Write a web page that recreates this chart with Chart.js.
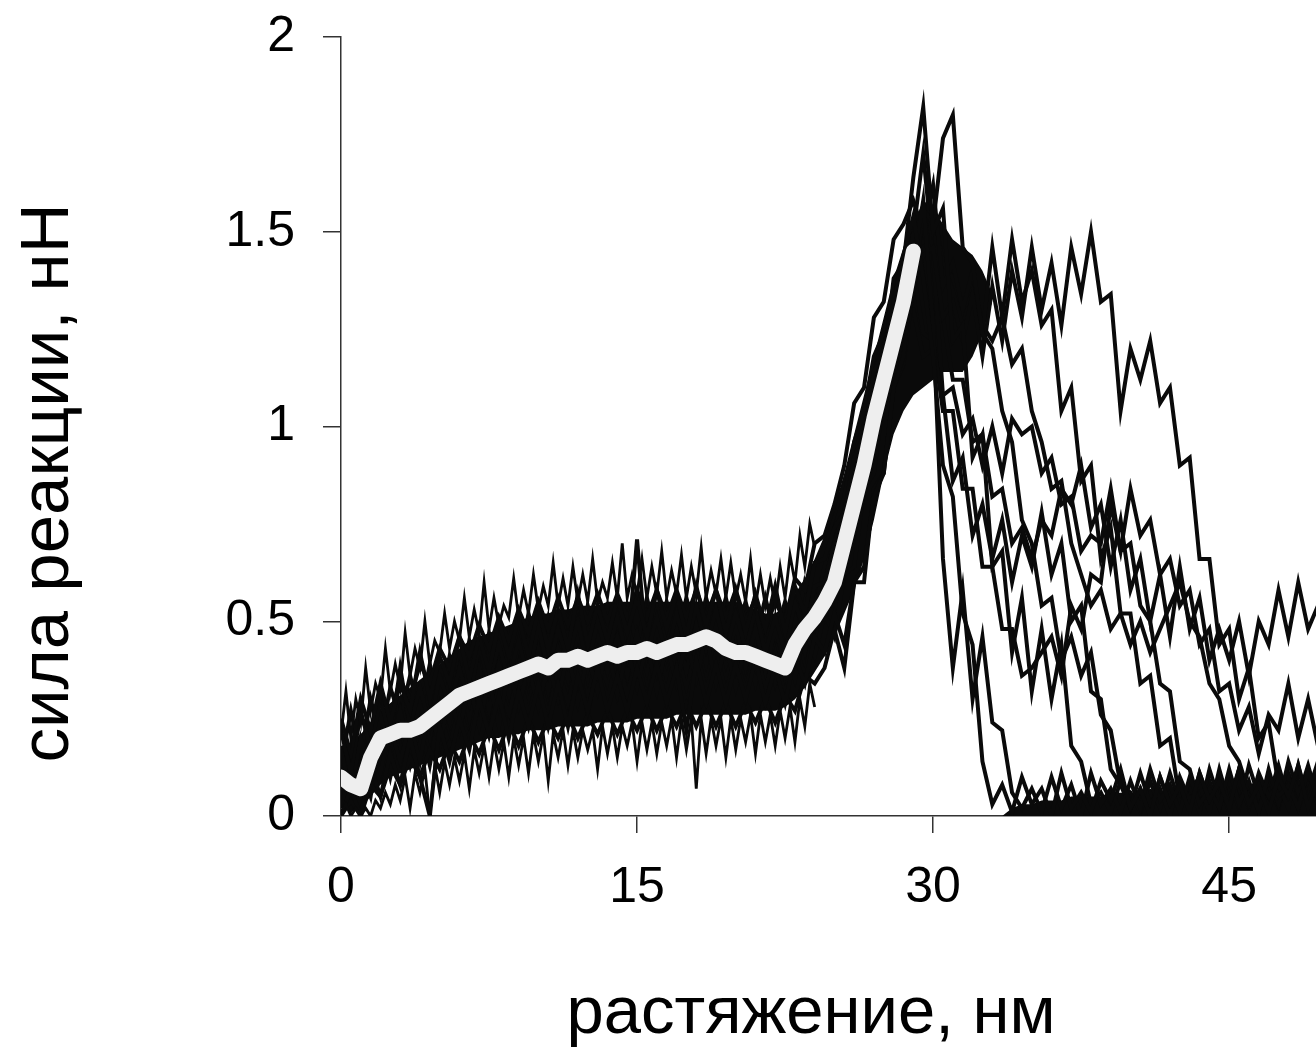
<!DOCTYPE html>
<html>
<head>
<meta charset="utf-8">
<script src="https://cdn.jsdelivr.net/npm/chart.js@4.4.1/dist/chart.umd.min.js"></script>
<style>
  html, body { margin: 0; padding: 0; background: #ffffff; }
  #wrap { width: 1316px; height: 1050px; }
</style>
</head>
<body>
<div id="wrap"><canvas id="c" width="1316" height="1050"></canvas></div>
<script>
// ---- data (extension in nm, force in nN) ----
const extensionNm = [0,0.5,1,1.5,2,2.5,3,3.5,4,4.5,5,5.5,6,6.5,7,7.5,8,8.5,9,9.5,10,10.5,11,11.5,12,12.5,13,13.5,14,14.5,15,15.5,16,16.5,17,17.5,18,18.5,19,19.5,20,20.5,21,21.5,22,22.5,23,23.5,24,24.5,25,25.5,26,26.5,27,27.5,28,28.5,29,29.5,30,30.5,31,31.5,32,32.5,33,33.5,34,34.5,35,35.5,36,36.5,37,37.5,38,38.5,39,39.5,40,40.5,41,41.5,42,42.5,43,43.5,44,44.5,45,45.5,46,46.5,47,47.5,48,48.5,49,49.5];

// individual force curves (x = extensionNm)
const curve1 = [.25,.16,.30,.22,.34,.24,.34,.27,.42,.30,.41,.34,.46,.35,.46,.37,.50,.41,.51,.41,.53,.43,.53,.43,.57,.44,.54,.45,.56,.47,.56,.46,.58,.48,.57,.46,.59,.49,.58,.47,.58,.47,.57,.48,.59,.47,.59,.52,.65,
.66,.74,.78,.92,.98,1.14,1.20,1.32,1.44,1.54,1.38,1.18,.90,.82,.52,.44,.14,.03,
.08,.01,.10,.03,.07,.00,.11,.02,.06,.01,.09,.04,.12,.02,.07,.00,.10,.03,.08,.01,.11,.04,.09,.02,.12,.03,.08,.01,.10,.05,.13,.02,.09];

const curve2 = [.00,.07,.00,.13,.05,.16,.08,.20,.10,.00,.23,.14,.25,.17,.30,.21,.31,.20,.32,.23,.34,.23,.34,.23,.36,.27,.38,.27,.36,.27,.38,.29,.39,.29,.38,.22,.40,.29,.39,.29,.39,.30,.40,.29,.38,.29,.41,.34,.46,
.42,.52,.44,.60,.64,.82,.88,1.10,1.18,1.42,1.58,1.26,.66,.38,.58,.30,.46,.24,.22,.06,.02,
.07,.01,.10,.02,.08,.00,.11,.03,.07,.01,.09,.02,.12,.04,.08,.01,.10,.03,.07,.02,.12,.03,.09,.01,.11,.05,.08,.02,.12,.04];

const curve3 = [.22,.11,.27,.17,.30,.20,.38,.23,.33,.23,.36,.28,.38,.29,.44,.34,.44,.35,.45,.35,.49,.37,.48,.40,.50,.38,.50,.41,.51,.41,.71,.41,.51,.41,.52,.43,.54,.43,.53,.42,.52,.43,.53,.42,.51,.42,.55,.47,.59,
.60,.70,.72,.88,.94,1.14,1.16,1.38,1.42,1.64,1.82,1.50,1.56,1.22,1.26,.92,.98,.64,.68,.42,.56,.32,.48,.30,.44,.18,.14,.03,
.06,.01,.09,.02,.11,.03,.07,.00,.10,.04,.08,.01,.12,.03,.09,.02,.11,.05,.08,.02,.13,.04,.10];

const curve4 = [.02,.13,.02,.17,.11,.23,.14,.24,.14,.28,.18,.31,.22,.34,.23,.35,.23,.38,.28,.38,.28,.39,.30,.42,.29,.41,.32,.44,.31,.43,.33,.44,.32,.44,.34,.45,.35,.46,.34,.44,.33,.44,.34,.45,.34,.44,.35,.48,.41,
.52,.46,.62,.64,.84,.88,1.08,1.10,1.32,1.34,1.56,1.52,1.74,1.80,1.46,1.42,1.24,1.20,1.04,.96,.76,.70,.54,.56,.40,.46,.36,.42,.26,.22,.08,.06,.01,
.09,.02,.11,.03,.08,.01,.12,.04,.09,.02,.13,.05,.10,.03,.14,.06,.11,.04];

const curve5 = [.21,.16,.25,.21,.31,.26,.35,.30,.39,.34,.43,.38,.46,.41,.49,.43,.51,.45,.53,.47,.55,.48,.56,.49,.56,.50,.57,.50,.57,.51,.58,.51,.58,.51,.58,.51,.58,.51,.58,.51,.58,.50,.56,.48,.55,.50,.61,.58,.70,
.72,.80,.90,1.06,1.10,1.28,1.32,1.48,1.52,1.58,1.50,1.62,1.36,1.42,1.30,1.40,1.24,1.46,1.28,1.48,1.32,1.40,1.26,1.30,1.04,1.10,.86,.90,.66,.74,.52,.52,.34,.36,.18,.20,.04,.06,
.10,.02,.09,.04,.12,.03,.10,.05,.13,.04,.11,.06,.14];

const curve6 = [.00,.04,.00,.08,.05,.13,.08,.15,.10,.17,.12,.19,.14,.21,.16,.23,.17,.24,.18,.25,.19,.25,.20,.26,.20,.26,.21,.27,.21,.27,.22,.28,.22,.28,.23,.29,.23,.29,.23,.29,.23,.29,.24,.30,.24,.31,.27,.36,.34,
.38,.48,.38,.60,.60,.84,.88,1.10,1.16,1.36,1.44,1.46,1.28,1.32,1.22,1.34,1.18,1.36,1.22,1.40,1.28,1.46,1.30,1.42,1.26,1.46,1.34,1.50,1.32,1.34,1.04,1.20,1.12,1.22,1.06,1.10,.90,.92,.66,.66,.44,.48,.30,.38,.20,.24,.08,.10,.02,.09,.03];

const curve7 = [.17,.06,.20,.12,.26,.17,.27,.16,.30,.20,.33,.24,.38,.25,.38,.27,.39,.31,.44,.33,.43,.32,.43,.35,.47,.35,.47,.37,.46,.36,.47,.37,.48,.39,.48,.37,.49,.39,.50,.39,.49,.38,.48,.37,.48,.39,.51,.42,.56,
.58,.68,.72,.86,.90,1.06,1.12,1.28,1.32,1.44,1.46,1.28,1.28,1.12,1.12,.96,.98,.82,.84,.70,.74,.66,.76,.72,.84,.80,.90,.74,.80,.64,.76,.58,.66,.50,.62,.46,.64,.48,.56,.40,.48,.40,.50,.36,.50,.44,.58,.46,.60,.48,.54];

const curve8 = [.13,.27,.15,.30,.20,.33,.25,.36,.26,.39,.28,.41,.32,.45,.36,.47,.37,.47,.38,.52,.41,.51,.41,.52,.41,.54,.44,.54,.43,.54,.44,.56,.45,.55,.45,.56,.46,.56,.47,.56,.46,.55,.45,.56,.46,.55,.47,.60,.53,
.64,.74,.82,.96,1.04,1.18,1.24,1.34,1.38,1.40,1.24,1.22,1.04,1.04,.84,.84,.64,.64,.48,.48,.36,.38,.42,.46,.36,.54,.48,.62,.60,.80,.68,.84,.72,.76,.62,.66,.54,.58,.44,.48,.32,.34,.22,.28,.16,.26,.22,.34,.20,.30,.18];

const curve9 = [.11,.02,.12,.05,.21,.10,.22,.13,.23,.13,.27,.18,.28,.19,.32,.21,.34,.26,.37,.26,.36,.26,.38,.29,.40,.26,.39,.30,.41,.31,.41,.30,.40,.32,.43,.33,.43,.32,.42,.32,.41,.32,.43,.33,.42,.31,.44,.36,.49,
.50,.60,.62,.78,.84,1.00,1.06,1.22,1.30,1.30,1.18,1.20,1.08,1.10,.98,1.02,.90,1.00,.88,1.02,.98,1.00,.88,.92,.80,.82,.68,.72,.70,.84,.68,.70,.54,.50,.34,.32,.14,.12,.03,
.09,.02,.11,.04,.08,.01,.12,.03,.10,.05,.13,.04];

const curve10 = [.12,.06,.14,.12,.22,.18,.24,.19,.26,.22,.30,.26,.34,.29,.36,.31,.38,.33,.40,.35,.42,.35,.43,.37,.44,.37,.44,.39,.44,.39,.45,.40,.45,.40,.47,.41,.48,.42,.48,.41,.45,.40,.44,.38,.42,.37,.46,.45,.53,
.56,.66,.70,.84,.88,1.04,1.10,1.26,1.34,1.50,1.70,1.44,1.08,.86,.92,.72,.80,.66,.76,.60,.72,.64,.78,.62,.70,.50,.54,.32,.30,.12,.08,.02,
.07,.01,.10,.03,.08,.02,.11,.04,.09,.01,.12,.05,.08,.03,.11,.06,.09,.04,.12];

const curve11 = [.18,.10,.20,.15,.24,.20,.28,.22,.30,.25,.33,.28,.36,.30,.38,.32,.40,.34,.42,.36,.43,.36,.44,.38,.45,.38,.45,.39,.46,.40,.46,.40,.46,.41,.47,.42,.48,.42,.47,.41,.46,.40,.45,.39,.44,.40,.48,.46,.55,
.60,.68,.76,.86,.96,1.06,1.16,1.26,1.36,1.44,1.50,1.56,1.42,1.38,1.30,1.34,1.26,1.22,1.28,1.16,1.20,1.04,.96,.84,.86,.70,.62,.54,.58,.48,.52,.44,.50,.42,.48,.54,.60,.50,.46,.34,.30,.18,.14,.06,.04,
.09,.02,.11,.04,.10,.03];

// fine-step noise at the edges of the dense band, x = 0 ... 24 nm in 0.25 nm steps
const edgeExtensionNm = [0,0.25,0.5,0.75,1,1.25,1.5,1.75,2,2.25,2.5,2.75,3,3.25,3.5,3.75,4,4.25,4.5,4.75,5,5.25,5.5,5.75,6,6.25,6.5,6.75,7,7.25,7.5,7.75,8,8.25,8.5,8.75,9,9.25,9.5,9.75,10,10.25,10.5,10.75,11,11.25,11.5,11.75,12,12.25,12.5,12.75,13,13.25,13.5,13.75,14,14.25,14.5,14.75,15,15.25,15.5,15.75,16,16.25,16.5,16.75,17,17.25,17.5,17.75,18,18.25,18.5,18.75,19,19.25,19.5,19.75,20,20.25,20.5,20.75,21,21.25,21.5,21.75,22,22.25,22.5,22.75,23,23.25,23.5,23.75,24];
const edgeNoiseUpper = [.21,.32,.20,.30,.24,.38,.27,.34,.30,.43,.32,.39,
.33,.47,.36,.43,.38,.50,.39,.45,.42,.52,.43,.50,
.45,.56,.46,.53,.47,.60,.48,.56,.49,.54,.51,.61,
.51,.58,.52,.62,.53,.59,.54,.65,.54,.61,.54,.64,
.55,.62,.55,.66,.55,.60,.56,.65,.56,.70,.56,.62,
.57,.66,.56,.64,.57,.68,.56,.63,.57,.67,.56,.64,
.57,.69,.56,.63,.57,.66,.56,.65,.56,.62,.55,.66,
.54,.62,.54,.61,.54,.64,.56,.67,.60,.72,.64,.75,.69];
const edgeNoiseLower = [.01,.03,.00,.02,.00,.02,.00,.04,.02,.06,.03,.08,
.04,.10,.02,.11,.06,.12,.00,.13,.06,.14,.08,.15,
.09,.16,.07,.17,.11,.18,.10,.19,.12,.19,.10,.20,
.13,.20,.11,.21,.14,.21,.09,.21,.15,.22,.13,.22,
.15,.22,.17,.22,.12,.23,.16,.23,.15,.23,.18,.24,
.14,.24,.17,.24,.16,.24,.18,.25,.15,.25,.17,.25,
.07,.25,.16,.25,.18,.25,.15,.25,.17,.25,.19,.26,
.16,.26,.19,.26,.18,.27,.20,.28,.19,.30,.23,.34,.28];

// dense overlap of the curves, x = 0 ... 33 nm (upper and lower edge)
const bandUpper = [.17,.19,.21,.24,.27,.29,.31,.33,.35,.37,.39,.41,.43,.45,.46,.47,.48,.49,.50,.51,.52,.52,.53,.53,.54,.54,.54,.55,.55,.55,.55,.55,.55,.55,.55,.55,.55,.55,.55,.55,.55,.54,.53,.52,.52,.54,.57,.61,.66,.72,.79,.88,.98,1.08,1.18,1.28,1.38,1.46,1.52,1.58,1.56,1.52,1.48,1.46,1.44,1.40,1.34];
const bandLower = [.03,.01,.02,.05,.08,.10,.11,.12,.13,.14,.15,.16,.17,.18,.19,.20,.20,.21,.21,.22,.22,.22,.23,.23,.23,.23,.24,.24,.24,.24,.25,.25,.25,.25,.26,.26,.26,.26,.26,.26,.26,.26,.27,.27,.27,.28,.30,.33,.37,.41,.46,.52,.58,.66,.76,.88,.98,1.04,1.08,1.10,1.12,1.14,1.14,1.14,1.18,1.24,1.32];
// curves lying on the baseline after rupture, x = 33.5 ... 49.5 nm
const baselineStart = 33.5;
const baselineUpper = [.00,.02,.03,.03,.04,.04,.04,.05,.05,.05,.05,.06,.06,.06,.06,.07,.06,.07,.07,.07,.07,.08,.08,.08,.08,.08,.09,.09,.09,.09,.09,.10,.10];

// averaged curve (light line), x = 0 ... 29 nm
const meanCurve = [.10,.08,.07,.15,.20,.21,.22,.22,.23,.25,.27,.29,.31,.32,.33,.34,.35,.36,.37,.38,.39,.38,.40,.40,.41,.40,.41,.42,.41,.42,.42,.43,.42,.43,.44,.44,.45,.46,.45,.43,.42,.42,.41,.40,.39,.38,.44,.48,.51,.55,.60,.70,.80,.90,1.02,1.12,1.22,1.32,1.45];

const xTickValues = [0, 15, 30, 45];
const yTickValues = [0, 0.5, 1, 1.5, 2];
const yTickLabels = ['0', '0.5', '1', '1.5', '2'];
const xAxisTitle = 'растяжение, нм';
const yAxisTitle = 'сила реакции, нН';

// ---- chart ----
const pts = (arr, start = 0, xs = extensionNm) => {
  const i0 = xs.indexOf(start);
  return arr.map((y, i) => ({ x: xs[i0 + i], y }));
};
const rawCurves = [curve1, curve2, curve3, curve4, curve5, curve6, curve7, curve8, curve9, curve10, curve11];
const INK = '#0a0a0a';

const datasets = [
  { label: 'среднее', data: pts(meanCurve), borderColor: '#eeeeee', borderWidth: 15,
    borderCapStyle: 'round', borderJoinStyle: 'round', pointRadius: 0, tension: 0, fill: false, order: 0 },
  { label: 'band upper', data: pts(bandUpper), borderWidth: 0, borderColor: INK, backgroundColor: INK,
    pointRadius: 0, tension: 0, fill: '+1', order: 2 },
  { label: 'band lower', data: pts(bandLower), borderWidth: 0, borderColor: INK, backgroundColor: INK,
    pointRadius: 0, tension: 0, fill: false, order: 2 },
  { label: 'baseline', data: pts(baselineUpper, baselineStart), borderWidth: 0, borderColor: INK, backgroundColor: INK,
    pointRadius: 0, tension: 0, fill: 'origin', order: 2 },
  { label: 'edge upper', data: pts(edgeNoiseUpper, 0, edgeExtensionNm), borderColor: INK, borderWidth: 2.8,
    pointRadius: 0, tension: 0, fill: false, order: 1 },
  { label: 'edge lower', data: pts(edgeNoiseLower, 0, edgeExtensionNm), borderColor: INK, borderWidth: 2.8,
    pointRadius: 0, tension: 0, fill: false, order: 1 }
];
rawCurves.forEach((c, k) => datasets.push({
  label: 'кривая ' + (k + 1),
  data: pts(c),
  borderColor: INK,
  borderWidth: 4,
  pointRadius: 0,
  tension: 0,
  fill: false,
  order: 1
}));

const FONT = "'Liberation Sans', Arial, sans-serif";

const axisTitles = {
  id: 'axisTitles',
  afterDraw(chart) {
    const ctx = chart.ctx;
    ctx.save();
    ctx.fillStyle = '#000';
    ctx.textAlign = 'center';
    ctx.textBaseline = 'alphabetic';
    ctx.font = '67px ' + FONT;
    ctx.fillText(xAxisTitle, 811, 1033);
    ctx.translate(68, 483);
    ctx.rotate(-Math.PI / 2);
    ctx.font = '69px ' + FONT;
    ctx.fillText(yAxisTitle, 0, 0);
    ctx.restore();
  }
};

new Chart(document.getElementById('c'), {
  type: 'line',
  data: { datasets },
  options: {
    responsive: false,
    animation: false,
    events: [],
    layout: { padding: { top: 37, left: 0, right: 0, bottom: 0 } },
    plugins: { legend: { display: false }, tooltip: { enabled: false } },
    scales: {
      x: {
        type: 'linear',
        min: 0,
        max: 49.4,
        afterBuildTicks: s => { s.ticks = xTickValues.map(v => ({ value: v })); },
        afterFit: s => { s.height = 234; s.paddingLeft = 0; s.paddingRight = 0; },
        grid: { drawOnChartArea: false, drawTicks: true, tickLength: 17, color: '#333', lineWidth: 1.5 },
        border: { display: true, color: '#333', width: 1.5 },
        ticks: { color: '#000', font: { family: FONT, size: 50 }, padding: 25, maxRotation: 0, autoSkip: false }
      },
      y: {
        type: 'linear',
        min: 0,
        max: 2,
        afterBuildTicks: s => { s.ticks = yTickValues.map(v => ({ value: v })); },
        afterFit: s => { s.width = 341; s.paddingTop = 0; s.paddingBottom = 0; },
        grid: { drawOnChartArea: false, drawTicks: true, tickLength: 18, color: '#333', lineWidth: 1.5 },
        border: { display: true, color: '#333', width: 1.5 },
        ticks: {
          color: '#000', font: { family: FONT, size: 50 }, padding: 28, autoSkip: false,
          callback: (v) => yTickLabels[yTickValues.indexOf(v)]
        }
      }
    }
  },
  plugins: [axisTitles]
});
</script>
</body>
</html>
